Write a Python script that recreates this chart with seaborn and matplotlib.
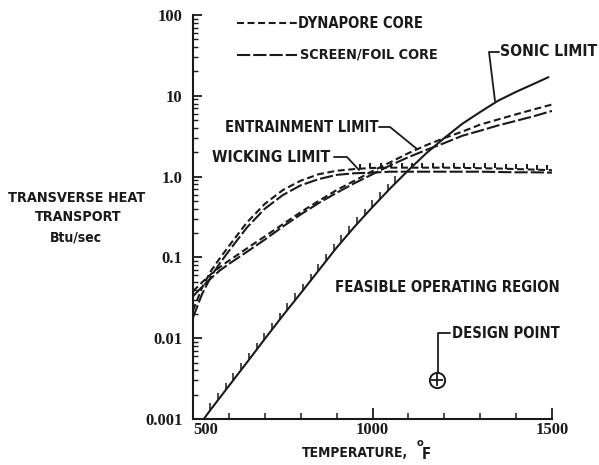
import numpy as np
import pandas as pd
import matplotlib
matplotlib.use("Agg")
import matplotlib.pyplot as plt
from matplotlib import font_manager
from matplotlib.lines import Line2D
from matplotlib.ticker import FixedLocator, FixedFormatter, LogLocator, NullFormatter
import seaborn as sns

# ---- data: temperature (deg F) vs. transverse heat transport (Btu/sec) ----
sonic_temp = [530, 550, 600, 650, 700, 750, 800, 850, 900, 950, 1000, 1050,
              1100, 1150, 1200, 1250, 1300, 1350, 1400, 1450, 1490]
sonic_q = [0.0010, 0.00132, 0.00257, 0.0050, 0.0098, 0.019, 0.036, 0.069,
           0.132, 0.24, 0.42, 0.72, 1.20, 1.95, 3.0, 4.5, 6.3, 8.7, 11.2,
           14.1, 17.0]

limit_temp = [500, 525, 550, 575, 600, 650, 700, 750, 800, 850, 900, 950,
              1000, 1050, 1100, 1150, 1200, 1250, 1300, 1350, 1400, 1450, 1500]
entrain_dynapore = [0.038, 0.049, 0.062, 0.076, 0.091, 0.129, 0.182, 0.257,
                    0.363, 0.50, 0.68, 0.89, 1.17, 1.51, 1.95, 2.45, 3.0,
                    3.6, 4.4, 5.1, 5.9, 6.8, 7.8]
entrain_screen = [0.033, 0.043, 0.055, 0.069, 0.083, 0.117, 0.166, 0.24,
                  0.34, 0.47, 0.63, 0.83, 1.07, 1.38, 1.74, 2.14, 2.6, 3.2,
                  3.7, 4.3, 4.9, 5.6, 6.5]
wick_dynapore = [0.022, 0.042, 0.068, 0.098, 0.138, 0.27, 0.46, 0.68, 0.89,
                 1.07, 1.18, 1.24, 1.28, 1.29, 1.29, 1.29, 1.29, 1.28, 1.27,
                 1.26, 1.24, 1.22, 1.20]
wick_screen = [0.018, 0.035, 0.058, 0.085, 0.120, 0.234, 0.40, 0.59, 0.78,
               0.93, 1.05, 1.10, 1.12, 1.15, 1.15, 1.15, 1.15, 1.15, 1.15,
               1.14, 1.13, 1.13, 1.12]

design_temp = [1180]
design_q = [0.003]

y_ticks = [0.001, 0.01, 0.1, 1.0, 10, 100]
y_tick_labels = ["0.001", "0.01", "0.1", "1.0", "10", "100"]
x_ticks = [500, 1000, 1500]
x_tick_labels = ["500", "1000", "1500"]

# ---- style ----
sns.set_theme(style="white")
plt.rcParams["lines.scale_dashes"] = False
plt.rcParams["font.family"] = ["DejaVu Sans"]

names = {f.name for f in font_manager.fontManager.ttflist}
cond = any(f.name == "DejaVu Sans" and str(f.stretch) == "condensed"
           for f in font_manager.fontManager.ttflist)
if "Liberation Sans Narrow" in names:
    LABEL_FONT = dict(family="Liberation Sans Narrow", fontweight="bold")
elif "DejaVu Sans Condensed" in names:
    LABEL_FONT = dict(family="DejaVu Sans Condensed", fontweight="bold")
elif cond:
    LABEL_FONT = dict(family="DejaVu Sans", fontweight="bold", fontstretch="condensed")
else:
    LABEL_FONT = dict(family="DejaVu Sans", fontweight="bold")
NUM_FONT = dict(family="Liberation Serif", weight="bold", size=12)

W, H = 599, 465
fig = plt.figure(figsize=(W / 100, H / 100), dpi=100)
fig.patch.set_facecolor("white")
renderer = fig.canvas.get_renderer()

ax = fig.add_axes([193 / W, 1 - 419 / H, 359 / W, 404 / H])
ax.set_facecolor("white")

LW = 1.5
DYN = (0, (5, 2.6))
SCR = (0, (9.5, 2.2))

sns.lineplot(x=sonic_temp, y=sonic_q, ax=ax, color="k", lw=LW)
sns.lineplot(x=limit_temp, y=entrain_dynapore, ax=ax, color="k", lw=LW, linestyle=DYN)
sns.lineplot(x=limit_temp, y=entrain_screen, ax=ax, color="k", lw=LW, linestyle=SCR)
sns.lineplot(x=limit_temp, y=wick_dynapore, ax=ax, color="k", lw=LW, linestyle=DYN)
sns.lineplot(x=limit_temp, y=wick_screen, ax=ax, color="k", lw=LW, linestyle=SCR)

ax.set_yscale("log")
ax.set_xlim(500, 1500)
ax.set_ylim(1e-3, 100)

# hatch marks along the limiting curves
DECADE_PX = 404 / 5


def hatch(temp, q, t0, t1, step, length_px, lw=1.1):
    ts = np.arange(t0, t1 + 0.1, step)
    lq = np.interp(ts, temp, np.log10(q))
    ax.vlines(ts, 10 ** lq, 10 ** (lq + length_px / DECADE_PX), color="k", lw=lw)


hatch(sonic_temp, sonic_q, 548, 1075, 21.5, 7)
hatch(limit_temp, wick_dynapore, 965, 1490, 29, 5, lw=1.4)

# design point
ax.plot(design_temp, design_q, marker="o", ms=11, mfc="white", mec="k", mew=1.4,
        ls="none", clip_on=False)
ax.plot(design_temp, design_q, marker="+", ms=8, mec="k", mew=1.3, ls="none",
        clip_on=False)

# axes
for s in ("top", "right"):
    ax.spines[s].set_visible(False)
for s in ("left", "bottom"):
    ax.spines[s].set_color("k")
    ax.spines[s].set_linewidth(1.5)

ax.yaxis.set_major_locator(FixedLocator(y_ticks))
ax.yaxis.set_major_formatter(FixedFormatter(y_tick_labels))
ax.yaxis.set_minor_locator(LogLocator(base=10, subs=np.arange(2, 10)))
ax.yaxis.set_minor_formatter(NullFormatter())
ax.xaxis.set_major_locator(FixedLocator(x_ticks))
ax.xaxis.set_major_formatter(FixedFormatter(x_tick_labels))
ax.xaxis.set_minor_locator(FixedLocator(list(range(600, 1500, 100))))

ax.tick_params(axis="y", which="major", direction="in", length=6.5, width=1.3,
               color="k", pad=7.5, left=True)
ax.tick_params(axis="y", which="minor", direction="in", length=3.5, width=1.0,
               color="k", left=True)
ax.tick_params(axis="x", which="major", direction="in", length=8, width=1.3,
               color="k", pad=2, bottom=True)
ax.tick_params(axis="x", which="minor", direction="in", length=4.5, width=1.1,
               color="k", bottom=True)
for lab in ax.get_xticklabels() + ax.get_yticklabels():
    lab.set_fontfamily(NUM_FONT["family"])
    lab.set_fontweight(NUM_FONT["weight"])
    lab.set_fontsize(NUM_FONT["size"])
    lab.set_color("k")
ax.get_xticklabels()[0].set_horizontalalignment("left")
ax.set_xlabel("")
ax.set_ylabel("")


# ---- annotations in figure pixel coordinates ----
def fpos(x, y):
    return x / W, 1 - y / H


def label(x, y, s, width, ha="left"):
    t = fig.text(*fpos(x, y), s, ha=ha, va="center", fontsize=10, color="k",
                 **LABEL_FONT)
    w = t.get_window_extent(renderer).width
    t.set_fontsize(10 * width / w)
    return t


def leader(xs, ys, lw=1.3, ls="-"):
    fig.add_artist(Line2D([x / W for x in xs], [1 - y / H for y in ys],
                          transform=fig.transFigure, color="k", lw=lw, ls=ls))


label(77, 198, "TRANSVERSE HEAT", 137, ha="center")
label(78, 217, "TRANSPORT", 87, ha="center")
label(76, 237, "Btu/sec", 52, ha="center")

leader([237, 298], [23, 23], lw=LW, ls=DYN)
label(298, 24, "DYNAPORE CORE", 124)
leader([237, 297], [55, 55], lw=LW, ls=SCR)
label(300, 54, "SCREEN/FOIL CORE", 138)

label(500, 52, "SONIC LIMIT", 97)
leader([499, 489, 495], [52, 52, 101])

label(225, 127, "ENTRAINMENT LIMIT", 152)
leader([379, 390, 417], [127, 127, 149])

label(212, 157, "WICKING LIMIT", 118)
leader([334, 347, 359], [157, 157, 170])

label(335, 287, "FEASIBLE OPERATING REGION", 223)

label(452, 334, "DESIGN POINT", 107)
leader([438, 438, 450], [373, 333, 333])

label(302, 453, "TEMPERATURE,", 106)
fig.text(*fpos(420, 443), "o", ha="center", va="center", fontsize=8, color="k",
         **LABEL_FONT)
label(422, 454, "F", 9)

fig.savefig("out.png", dpi=100, facecolor="white")
